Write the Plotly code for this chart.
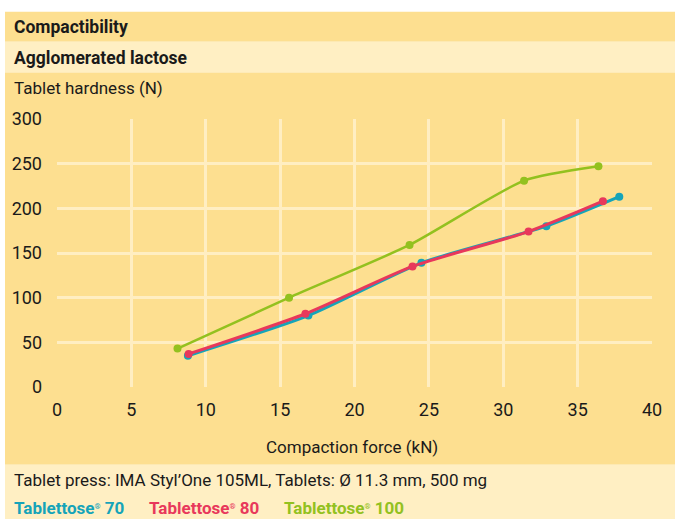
import plotly.graph_objects as go

# ---- data ----
force_70 = [8.8, 16.9, 24.5, 32.9, 37.8]
hard_70 = [35, 80, 139, 180, 213]
force_80 = [8.85, 16.7, 23.9, 31.7, 36.7]
hard_80 = [37, 82, 135, 174, 208]
force_100 = [8.1, 15.6, 23.7, 31.4, 36.4]
hard_100 = [43, 100, 159, 231, 247]
x_ticks = [0, 5, 10, 15, 20, 25, 30, 35, 40]
y_ticks = [0, 50, 100, 150, 200, 250, 300]

C70 = "#16A4B9"
C80 = "#E8385B"
C100 = "#93C11F"
DARK = "#FDDF90"
LIGHT = "#FFEFC3"
GRID = "#FFEEC2"
FONT = "Roboto, sans-serif"

W, H = 675, 519
L, R, T, B = 57, 652, 118.5, 387  # plot area pixel box


def px(xp):
    return (xp - L) / (R - L)


def py(yp):
    return (B - yp) / (B - T)


fig = go.Figure()
for xs, ys, c, w in [(force_70, hard_70, C70, 3), (force_80, hard_80, C80, 3), (force_100, hard_100, C100, 2.5)]:
    fig.add_trace(go.Scatter(x=xs, y=ys, mode="lines+markers",
                             line=dict(color=c, width=w, shape="spline", smoothing=0.6),
                             marker=dict(color=c, size=8), showlegend=False, cliponaxis=False,
                             hoverinfo="skip"))

shapes = []
bands = [(11, 41, DARK), (41, 72, LIGHT), (72, 465, DARK), (465, 530, LIGHT)]
for y0, y1, col in bands:
    shapes.append(dict(type="rect", xref="paper", yref="paper", x0=px(5), x1=px(690),
                       y0=py(y1), y1=py(y0), fillcolor=col, line=dict(width=0), layer="below"))

ann = []
def text(x, y, s, size=17, color="#1a1a1a", anchor="left", bold=False):
    ann.append(dict(xref="paper", yref="paper", x=px(x), y=py(y), text=("<b>%s</b>" % s) if bold else s,
                    showarrow=False, xanchor=anchor, yanchor="middle",
                    font=dict(family=FONT, size=size, color=color)))

REG = "<span style='font-size:11px'><sup>®</sup></span>"
text(12, 26, "Compactibility", size=17.5, bold=True)
text(12, 57, "Agglomerated lactose", size=17.5, bold=True)
text(12, 87, "Tablet hardness (N)")
text(352, 447, "Compaction force (kN)", anchor="center")
text(12, 480, "Tablet press: IMA Styl’One 105ML, Tablets: Ø 11.3 mm, 500 mg")
text(12, 508, "Tablettose" + REG + " 70", color=C70, bold=True)
text(147, 508, "Tablettose" + REG + " 80", color=C80, bold=True)
text(282, 508, "Tablettose" + REG + " 100", color=C100, bold=True)

fig.update_layout(
    width=W, height=H,
    margin=dict(l=L, r=W - R, t=T, b=H - B, pad=0),
    paper_bgcolor="white", plot_bgcolor="rgba(0,0,0,0)",
    shapes=shapes, annotations=ann,
    font=dict(family=FONT, size=18, color="#1a1a1a"),
    xaxis=dict(range=[0, 40], tickvals=x_ticks, showgrid=True, gridcolor=GRID, gridwidth=2.5,
               zeroline=False, showline=False, ticks="", ticklabelstandoff=10, automargin=False,
               tickfont=dict(size=18)),
    yaxis=dict(range=[0, 300], tickvals=y_ticks, showgrid=True, gridcolor=GRID, gridwidth=2.5,
               zeroline=False, showline=False, ticks="", ticklabelstandoff=14, automargin=False,
               tickfont=dict(size=18)),
)
fig.write_html("out.html", config={"displayModeBar": False},
               post_script="document.body.style.margin='0';document.body.style.overflow='hidden';")
